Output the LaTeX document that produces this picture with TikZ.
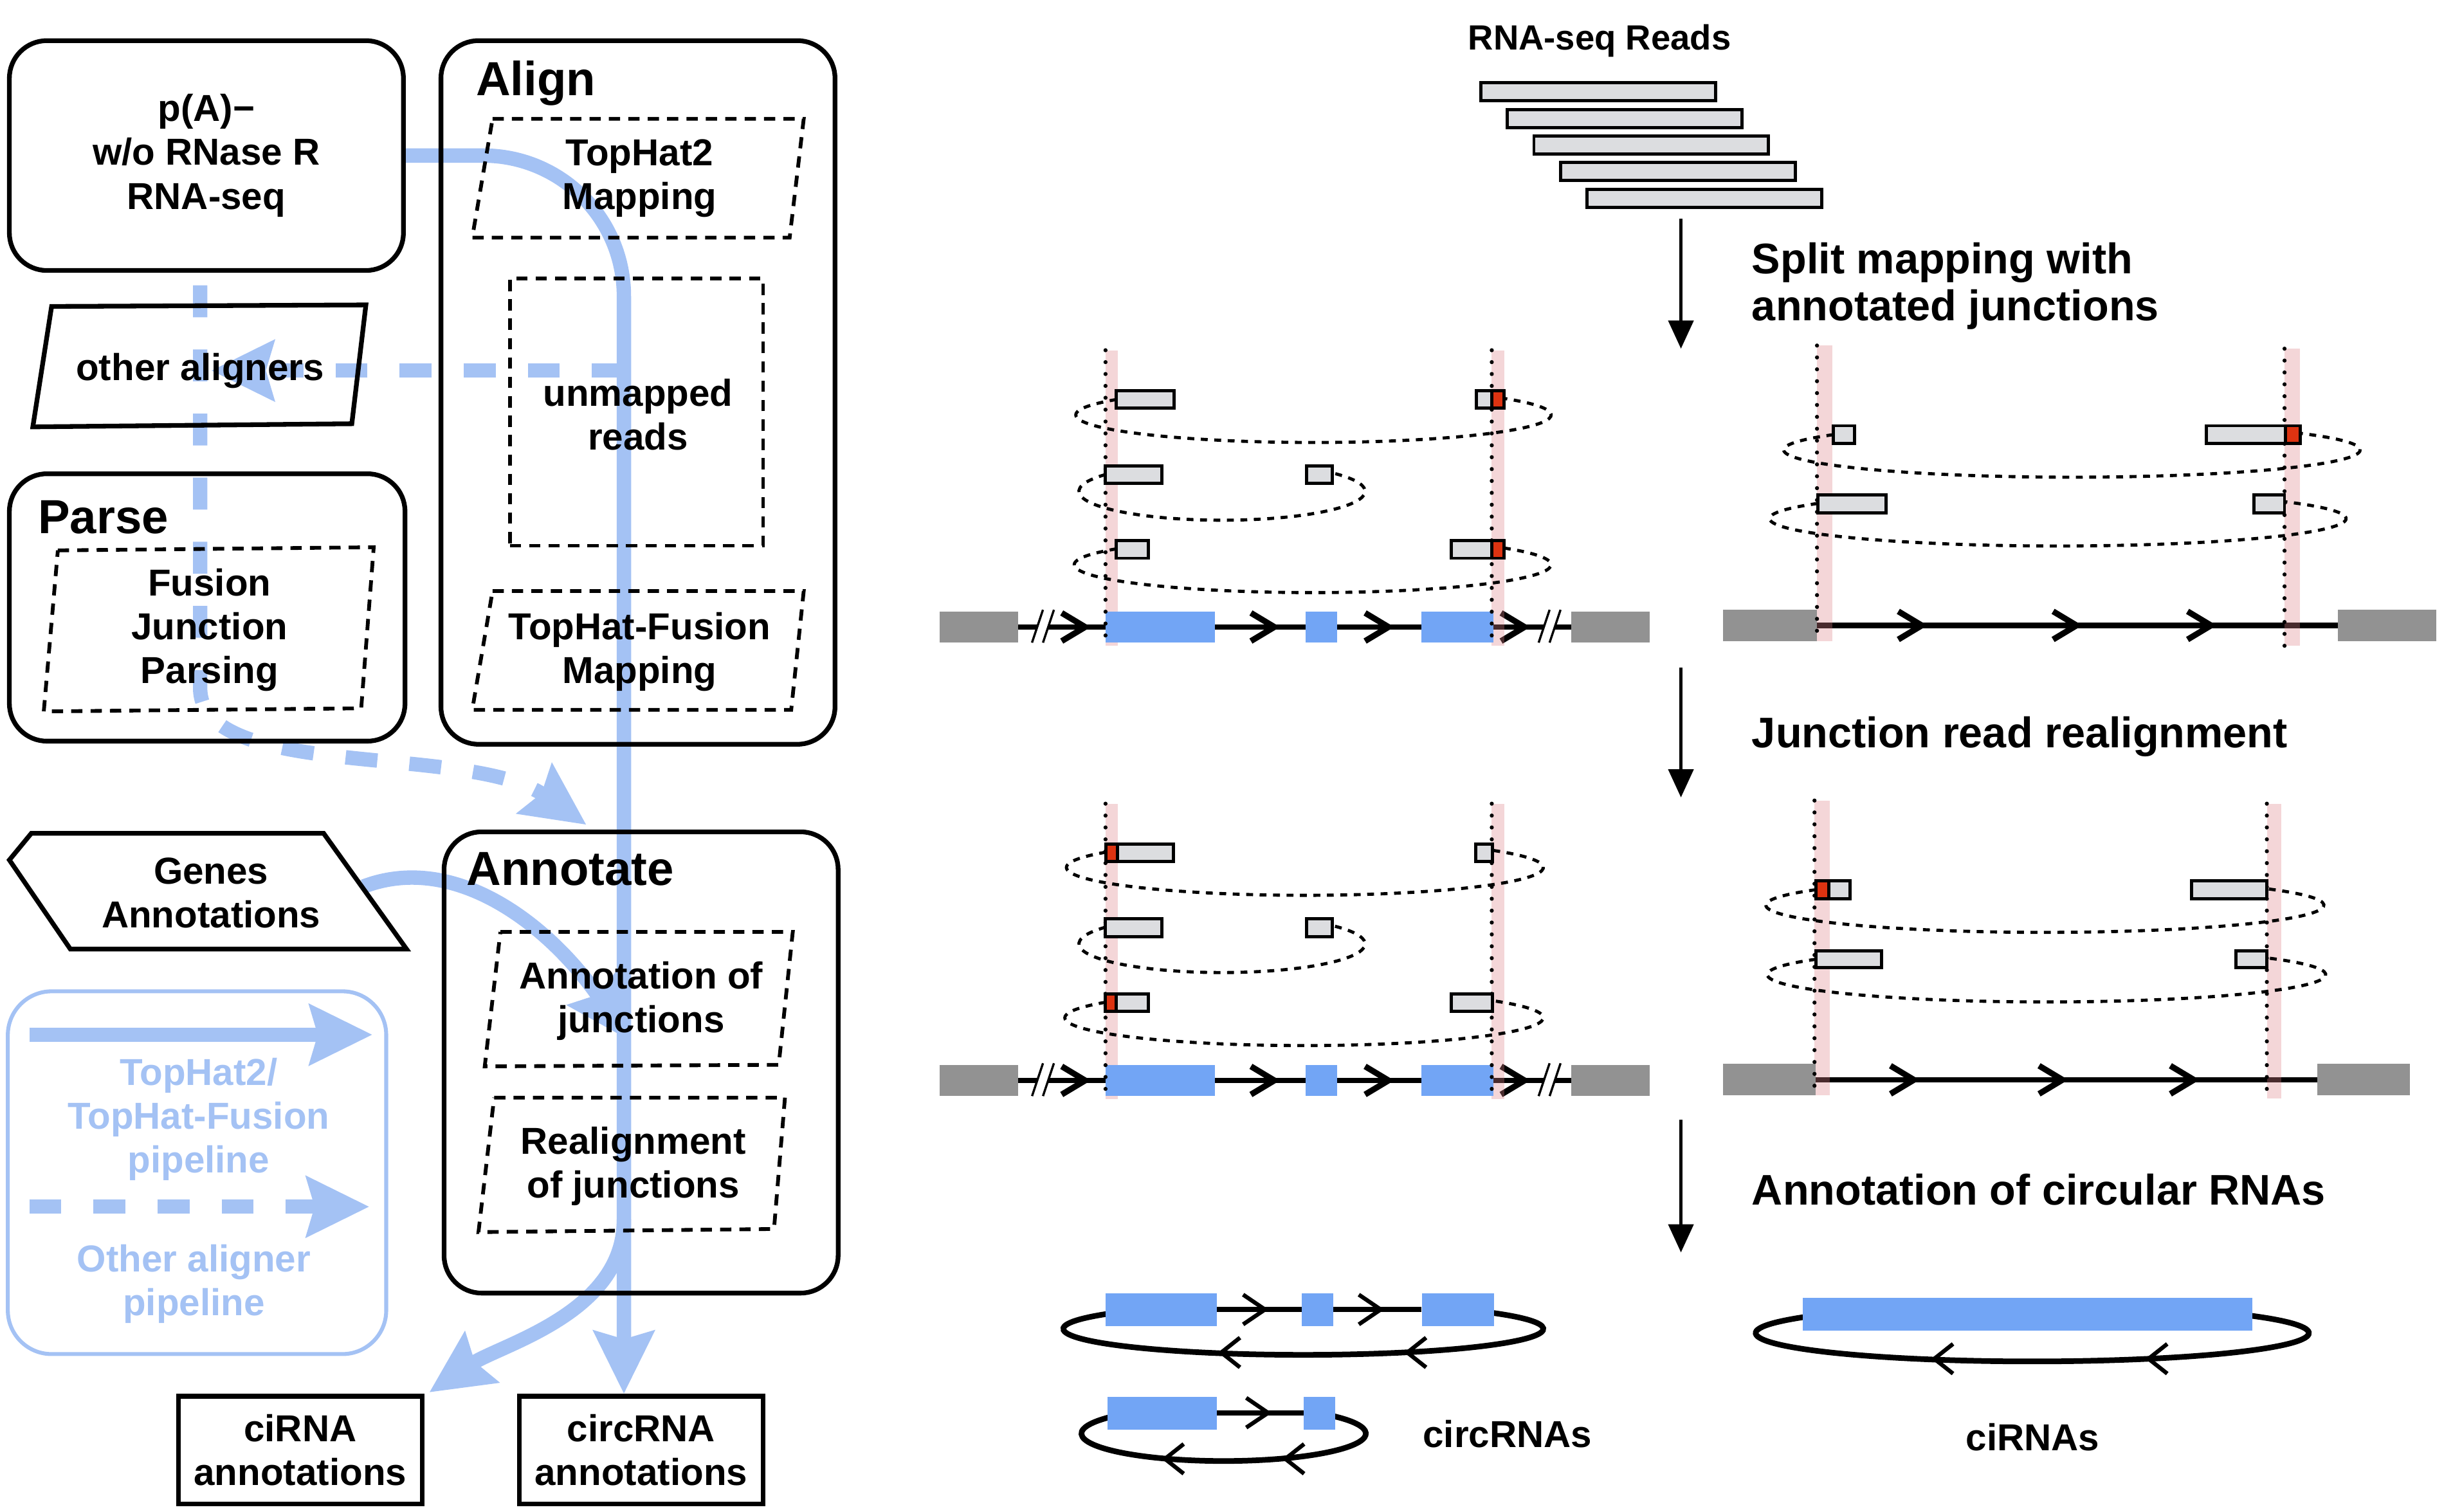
\documentclass[tikz,border=0pt]{standalone}
\usepackage{fontspec}
\setmainfont{Liberation Sans}
\usepackage{tikz}
\usetikzlibrary{arrows.meta,calc,backgrounds,positioning}

\definecolor{flowblue}{RGB}{164,194,244}
\definecolor{exonblue}{RGB}{114,165,245}
\definecolor{flankgray}{RGB}{146,146,146}
\definecolor{readgray}{RGB}{220,221,224}
\definecolor{juncred}{RGB}{221,51,17}
\definecolor{bandpink}{RGB}{222,132,138}

\begin{document}
\begin{tikzpicture}[x=0.5pt,y=0.5pt,yscale=-1,xscale=1,
    txt/.style={font=\fontsize{12}{14}\selectfont\bfseries, align=center, inner sep=0pt},
    headtxt/.style={font=\fontsize{15.3}{18}\selectfont\bfseries, anchor=base west, inner sep=0pt},
    steptxt/.style={font=\fontsize{13.7}{15}\selectfont\bfseries, anchor=west, align=left, inner sep=0pt},
    panel/.style={draw, line width=1.5pt, rounded corners=12pt},
    outbox/.style={draw, line width=1.5pt},
    dbox/.style={line width=1.2pt, dash pattern=on 3.6pt off 2.6pt},
    sbox/.style={line width=1.5pt},
    flow/.style={color=flowblue, line width=4.6pt, -{Stealth[length=20pt,width=19pt,inset=2.5pt]}},
    dflow/.style={flow, dash pattern=on 10.2pt off 10.3pt},
    steparrow/.style={line width=1pt, -{Triangle[length=9pt,width=8pt]}},
    read/.style={draw, line width=1pt, fill=readgray},
    gline/.style={line width=1.7pt},
    chev/.style={line width=1.9pt},
    schev/.style={line width=1.3pt},
    brk/.style={line width=0.7pt},
    band/.style={fill=bandpink, opacity=0.33},
    junc/.style={line width=1.3pt, line cap=round, dash pattern=on 0pt off 3.8pt},
    ring/.style={line width=1pt, dash pattern=on 2.2pt off 2.1pt},
    cring/.style={line width=1.8pt}
]
\useasboundingbox (0,0) rectangle (1563,967);

% pipeline
\node[panel, txt, minimum width=126pt, minimum height=73.5pt] (seq) at (132,99.5) {p(A)−\\w/o RNase R\\RNA-seq};

\node[panel, minimum width=126pt, minimum height=225pt] (align) at (408,251) {};
\node[headtxt] (alignlbl) at (304,61) {Align};
\draw[dbox] (315,76) -- (514,76) -- (505,152) -- (302,152) -- cycle;
\node[txt] (th2) at (409,114) {TopHat2\\Mapping};
\node[draw, dbox, minimum width=81pt, minimum height=85.5pt] (unm) at (407,263.5) {};
\node[txt] (unmlbl) at (408,265) {unmapped\\reads};
\draw[dbox] (315,378) -- (514,378) -- (506,454) -- (302,454) -- cycle;
\node[txt] (thf) at (409,417) {TopHat-Fusion\\Mapping};

\draw[sbox] (33,196) -- (234,195) -- (225,271) -- (21,273) -- cycle;
\node[txt] (oth) at (128,237) {other aligners};

\node[panel, minimum width=126.5pt, minimum height=85.5pt] (parse) at (132.5,388.5) {};
\node[headtxt] (parselbl) at (24,341) {Parse};
\draw[dbox] (37,352) -- (239,350) -- (231,453) -- (28,455) -- cycle;
\node[txt] (fjp) at (134,403) {Fusion\\Junction\\Parsing};

\draw[sbox] (6,550) -- (20,533) -- (207,533) -- (260,607) -- (45,607) -- cycle;
\node[txt] (genes) at (135,571) {Genes\\Annotations};

\node[draw=flowblue, line width=1.25pt, rounded corners=14pt, minimum width=121pt, minimum height=116pt] (legend) at (126,750) {};
\draw[flow] ($(legend.north west)+(15,29)$) -- ($(legend.north east)+(-10,29)$);
\node[txt, text=flowblue] (leg1) at (127,716) {TopHat2/\\TopHat-Fusion\\pipeline};
\draw[dflow] ($(legend.north west)+(15,139)$) -- ($(legend.north east)+(-12,139)$);
\node[txt, text=flowblue] (leg2) at (124,821) {Other aligner\\pipeline};

\node[panel, minimum width=126pt, minimum height=147.5pt] (annot) at (410,679.5) {};
\node[headtxt] (annotlbl) at (298,566) {Annotate};
\draw[dbox] (320,596) -- (507,596) -- (498,681) -- (310,682) -- cycle;
\node[txt] (annj) at (410,640) {Annotation of\\junctions};
\draw[dbox] (316,702) -- (502,702) -- (495,786) -- (306,788) -- cycle;
\node[txt] (realj) at (405,746) {Realignment\\of junctions};

\node[outbox, txt, minimum width=78pt, minimum height=34.5pt] (ci) at (192,927.5) {ciRNA\\annotations};
\node[outbox, txt, minimum width=78pt, minimum height=34.5pt] (circ) at (410,927.5) {circRNA\\annotations};

\coordinate (fork1) at (399,237);
\coordinate (fork2) at (399,780);
\begin{scope}[on background layer]
\draw[flow, rounded corners=45pt] (seq.east) -| ([xshift=-5.5pt]circ.north);
\draw[flow] ($(genes.east)+(27,-4)$) .. controls (290,545) and (350,590) .. ($(annj.center)+(-8,25)$);
\draw[flow] (fork2) .. controls (399,840) and (320,860) .. ($(ci.north east)+(3,-1)$);
\draw[dflow] ($(seq.south)+(-4,8)$) -- (128,440) .. controls (128,500) and (300,475) .. ($(annot.north)+(-35,-3)$);
\draw[dflow] (fork1) -- ($(oth.center)+(7,0)$);
\end{scope}

% reads and steps
\node[font=\fontsize{11.2}{13}\selectfont\bfseries, inner sep=0pt] (rsq) at (1023,26) {RNA-seq Reads};
\foreach \i in {0,...,4}
  \draw[read] (947+17*\i,53+17*\i) rectangle ++(150,11.5);

\draw[steparrow] (1075,140) -- (1075,223);
\node[steptxt] (s1) at (1120,183) {Split mapping with\\annotated junctions};
\draw[steparrow] (1075,427) -- (1075,510);
\node[steptxt] (s2) at (1120,471) {Junction read realignment};
\draw[steparrow] (1075,716) -- (1075,801);
\node[steptxt] (s3) at (1120,761) {Annotation of circular RNAs};

% gene models, circRNA side
\foreach \dy in {0,290}{
\begin{scope}[shift={(0,\dy)}]
  \draw[gline] (651,401) -- (1005,401);
  \foreach \t in {694,815,888,975}
    \draw[chev] (\t-15,392) -- (\t,401) -- (\t-15,410);
  \foreach \b in {660,984}{
    \fill[white] (\b,411) -- (\b+7,390) -- (\b+14,390) -- (\b+7,411) -- cycle;
    \draw[brk] (\b,411) -- (\b+7,390) (\b+7,411) -- (\b+14,390);
  }
  \fill[band] (707,224) rectangle (715,413);
  \fill[band] (954,224) rectangle (962,413);
  \fill[flankgray] (601,391) rectangle (651,411);
  \fill[flankgray] (1005,391) rectangle (1055,411);
  \fill[exonblue] (707,391) rectangle (777,411);
  \fill[exonblue] (835,391) rectangle (855,411);
  \fill[exonblue] (909,391) rectangle (955,411);
  \draw[junc] (707,224) -- (707,413);
  \draw[junc] (954,224) -- (954,413);
\end{scope}}

% gene models, ciRNA side
\draw[gline] (1162,400) -- (1495,400);
\foreach \t in {1229,1328,1414}
  \draw[chev] (\t-15,391) -- (\t,400) -- (\t-15,409);
\fill[band] (1162,221) rectangle (1172,410);
\fill[band] (1461,223) rectangle (1471,413);
\fill[flankgray] (1102,390) rectangle (1162,410);
\fill[flankgray] (1495,390) rectangle (1558,410);
\draw[junc] (1162,221) -- (1162,410);
\draw[junc] (1461,223) -- (1461,413);

\draw[gline] (1161,690.6) -- (1482,690.6);
\foreach \t in {1224,1319,1403}
  \draw[chev] (\t-15,681.6) -- (\t,690.6) -- (\t-15,699.6);
\fill[band] (1160.4,512) rectangle (1170,700.6);
\fill[band] (1449.7,514) rectangle (1459,702.4);
\fill[flankgray] (1102,680.5) rectangle (1161,700.6);
\fill[flankgray] (1482,680.5) rectangle (1541,700.6);
\draw[junc] (1160.4,512) -- (1160.4,700.6);
\draw[junc] (1449.7,514) -- (1449.7,702.4);

% read pairs
\foreach \yr/\xl/\xr/\el/\er/\eb in {
  255.5/714/962/688/992/283, 303.5/707/852/690/873/332.7, 351/714/962/687/992/379,
  278/1172.4/1471/1140.7/1509.4/305.2, 322/1162.4/1461/1131.7/1500.4/349.2,
  545/707.3/954.3/682/987/572.6, 593/707/852/690/873/622, 641/707/954.3/681/987/668.7,
  569/1161.3/1449.7/1129.3/1486.2/596.3, 613.5/1161.3/1449.7/1130.2/1487.4/640.8}{
  \pgfmathsetmacro\cx{(\el+\er)/2}
  \pgfmathsetmacro\rx{(\er-\el)/2}
  \pgfmathsetmacro\ta{360-acos((\xl-\cx)/\rx)}
  \pgfmathsetmacro\tb{-acos((\xr-\cx)/\rx)}
  \pgfmathsetmacro\ry{(\eb-\yr)/(1+abs(sin(\ta)))}
  \draw[ring] (\xl,\yr) arc[start angle=\ta, end angle=\tb, x radius=\rx, y radius=\ry];
}

\draw[read] (714,250) rectangle (751,261);
\draw[read] (944,250) rectangle (962,261);
\draw[read, fill=juncred] (954,250) rectangle (962,261);
\draw[read] (707,298) rectangle (743,309);
\draw[read] (835.5,298) rectangle (852,309);
\draw[read] (714,345.6) rectangle (734.5,357);
\draw[read] (928,345.6) rectangle (962,357);
\draw[read, fill=juncred] (954,345.6) rectangle (962,357);

\draw[read] (1172.4,272.3) rectangle (1186,283.6);
\draw[read] (1411,272.3) rectangle (1471,283.6);
\draw[read, fill=juncred] (1461.6,272.3) rectangle (1471,283.6);
\draw[read] (1162.4,316.4) rectangle (1206,327.9);
\draw[read] (1441.5,316.4) rectangle (1461,327.9);

\draw[read] (707.3,539.8) rectangle (750.6,550.8);
\draw[read, fill=juncred] (707.3,539.8) rectangle (714.8,550.8);
\draw[read] (943.6,539.8) rectangle (954.3,550.8);
\draw[read] (706.7,587.7) rectangle (743,599);
\draw[read] (835.5,587.7) rectangle (852,599);
\draw[read] (706.7,635.7) rectangle (734.5,646.9);
\draw[read, fill=juncred] (706.7,635.7) rectangle (714,646.9);
\draw[read] (928,635.7) rectangle (954.3,646.9);

\draw[read] (1161.3,563.3) rectangle (1183.3,574.7);
\draw[read, fill=juncred] (1161.3,563.3) rectangle (1169.4,574.7);
\draw[read] (1401.4,563.3) rectangle (1449.7,574.7);
\draw[read] (1161.3,608) rectangle (1203.4,619);
\draw[read] (1430,608) rectangle (1449.7,619);

% circular products
\foreach \yr/\xl/\xr/\el/\er/\eb in {840/710/952/680/987/866.5, 906/711/851/691.6/873.5/934.4, 842/1156/1437/1122.8/1476.6/870.7}{
  \pgfmathsetmacro\cx{(\el+\er)/2}
  \pgfmathsetmacro\rx{(\er-\el)/2}
  \pgfmathsetmacro\ta{360-acos((\xl-\cx)/\rx)}
  \pgfmathsetmacro\tb{-acos((\xr-\cx)/\rx)}
  \pgfmathsetmacro\ry{(\eb-\yr)/(1+abs(sin(\ta)))}
  \draw[cring] (\xl,\yr) arc[start angle=\ta, end angle=\tb, x radius=\rx, y radius=\ry];
}
\draw[gline] (778,837.5) -- (909,837.5);
\foreach \t in {809,883}
  \draw[schev] (\t-14,828) -- (\t,837.5) -- (\t-14,847);
\foreach \t in {781,900}
  \draw[schev] (\t+12,855.5) -- (\t,865) -- (\t+12,874.5);
\fill[exonblue] (707,827) rectangle (778,848);
\fill[exonblue] (832.5,827) rectangle (852.7,848);
\fill[exonblue] (909.3,827) rectangle (955.4,848);

\draw[gline] (778,903.6) -- (834,903.6);
\draw[schev] (797,894) -- (811,903.6) -- (797,913);
\foreach \t in {745,822}
  \draw[schev] (\t+12,923.5) -- (\t,933) -- (\t+12,942.5);
\fill[exonblue] (708.4,893.4) rectangle (778.3,914.4);
\fill[exonblue] (833.6,893.4) rectangle (853.8,914.4);

\foreach \t in {1237,1374}
  \draw[schev] (\t+12,859.5) -- (\t,869) -- (\t+12,878.5);
\fill[exonblue] (1152.8,830) rectangle (1440.3,851);

\node[txt] (circlbl) at (964,917) {circRNAs};
\node[txt] (cilbl) at (1300,919) {ciRNAs};
\end{tikzpicture}
\end{document}
